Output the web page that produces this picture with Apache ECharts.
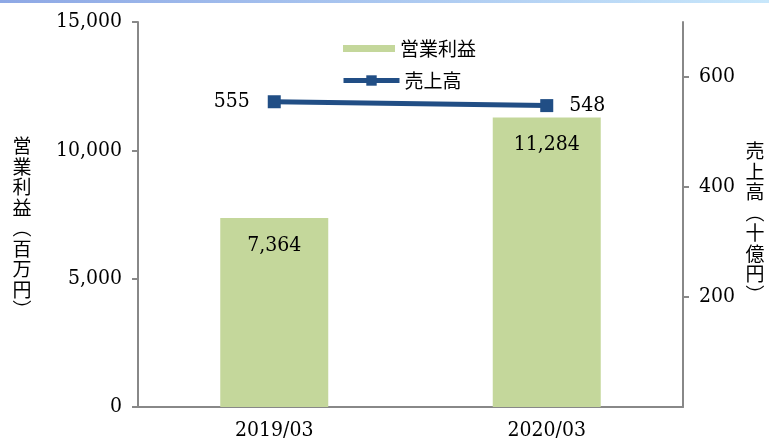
<!DOCTYPE html>
<html>
<head>
<meta charset="utf-8">
<script src="https://cdn.jsdelivr.net/npm/echarts@6/dist/echarts.min.js"></script>
<style>
html,body{margin:0;padding:0;background:#fff;}
#c{width:769px;height:446px;}
</style>
</head>
<body>
<div id="c"></div>
<script>
const categories = ['2019/03', '2020/03'];
const operatingProfit = [7364, 11284];   // 営業利益（百万円）
const sales = [555, 548];                // 売上高（十億円）
const rightTickValues = [200, 400, 600];

const numFont = '"DejaVu Serif Condensed", "Liberation Serif", serif';
const jpFont = '"Noto Sans CJK JP", sans-serif';
const axisGray = '#888888';
const lineBlue = '#214e85';

const chart = echarts.init(document.getElementById('c'), null, {renderer: 'canvas'});
chart.setOption({
  animation: false,
  backgroundColor: '#ffffff',
  grid: {left: 138, right: 86, top: 22, bottom: 39, containLabel: false},
  legend: [
    {
      data: ['営業利益'],
      left: 338, top: 34,
      itemWidth: 52, itemHeight: 7,
      icon: 'rect',
      textStyle: {fontFamily: jpFont, fontSize: 19, color: '#000'}
    },
    {
      data: ['売上高'],
      left: 336, top: 66,
      itemWidth: 56, itemHeight: 13,
      lineStyle: {width: 5, color: lineBlue},
      itemStyle: {color: lineBlue},
      textStyle: {fontFamily: jpFont, fontSize: 19, color: '#000'}
    }
  ],
  xAxis: {
    type: 'category',
    data: categories,
    axisLine: {show: true, lineStyle: {color: axisGray, width: 2}},
    axisTick: {show: false},
    axisLabel: {fontFamily: numFont, fontSize: 21, color: '#000', margin: 13}
  },
  yAxis: [
    {
      type: 'value', min: 0, max: 15000, interval: 5000,
      axisLine: {show: true, lineStyle: {color: axisGray, width: 2}},
      axisTick: {show: true, inside: false, length: 6, lineStyle: {color: axisGray, width: 2}},
      splitLine: {show: false},
      axisLabel: {fontFamily: numFont, fontSize: 21, color: '#000', margin: 16}
    },
    {
      type: 'value', min: 0, max: 700, interval: 200, position: 'right',
      axisLine: {show: true, lineStyle: {color: axisGray, width: 2}},
      axisTick: {show: true, inside: false, length: 6, lineStyle: {color: axisGray, width: 2}, customValues: rightTickValues},
      splitLine: {show: false},
      axisLabel: {fontFamily: numFont, fontSize: 21, color: '#000', margin: 16, customValues: rightTickValues}
    }
  ],
  series: [
    {
      name: '営業利益',
      type: 'bar',
      data: operatingProfit,
      barWidth: 108,
      itemStyle: {color: '#c4d79b'},
      label: {
        show: true, position: 'insideTop', distance: 17,
        fontFamily: numFont, fontSize: 21, color: '#000',
        formatter: p => p.value.toLocaleString('en-US')
      },
      z: 2
    },
    {
      name: '売上高',
      type: 'line',
      yAxisIndex: 1,
      data: sales.map((v, i) => i === 1
        ? {value: v, label: {position: 'right', distance: 16}}
        : v),
      symbol: 'rect',
      symbolSize: 13,
      lineStyle: {color: lineBlue, width: 5},
      itemStyle: {color: lineBlue},
      label: {
        show: true,
        fontFamily: numFont, fontSize: 21, color: '#000',
        position: 'left', distance: 18, offset: [0, -10]
      },
      labelLayout: {hideOverlap: false},
      z: 5
    }
  ],
  graphic: [
    {
      type: 'rect', left: 0, top: 0, z: 10,
      shape: {width: 769, height: 3},
      style: {fill: new echarts.graphic.LinearGradient(0, 0, 1, 0, [
        {offset: 0, color: '#8ea8e5'}, {offset: 1, color: '#c8e7fb'}
      ])}
    },
    {
      type: 'text', x: 22, y: 228, z: 10,
      style: {
        text: '営\n業\n利\n益\n︵\n百\n万\n円\n︶',
        fontFamily: jpFont, fontSize: 19, lineHeight: 20.5,
        fill: '#000', align: 'center', verticalAlign: 'middle'
      }
    },
    {
      type: 'text', x: 755, y: 223, z: 10,
      style: {
        text: '売\n上\n高\n︵\n十\n億\n円\n︶',
        fontFamily: jpFont, fontSize: 19, lineHeight: 20.5,
        fill: '#000', align: 'center', verticalAlign: 'middle'
      }
    }
  ]
});
</script>
</body>
</html>
